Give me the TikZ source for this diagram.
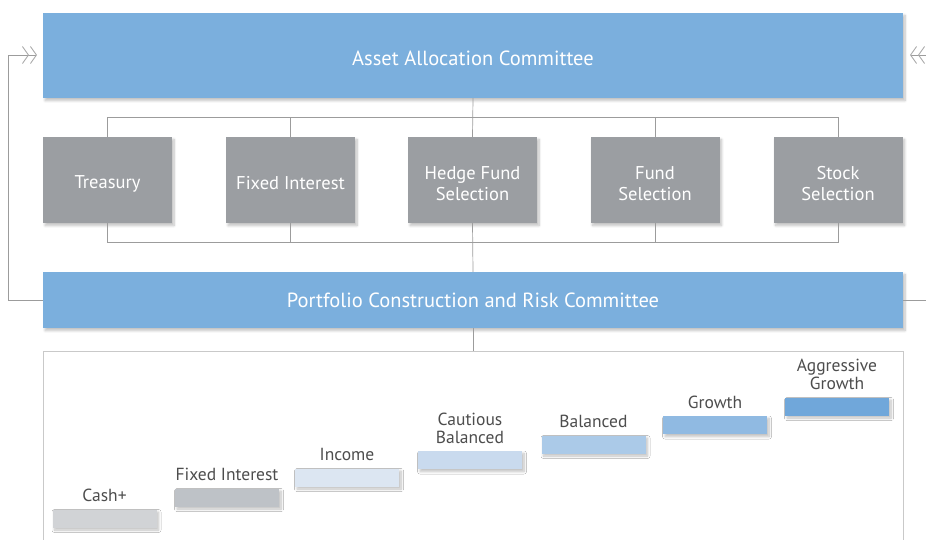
\documentclass[tikz,border=0pt]{standalone}
\usepackage{fontspec}
\setmainfont{PT Sans}
\usetikzlibrary{positioning,arrows.meta,shadows.blur}

\definecolor{committee}{HTML}{7BAFDD}
\definecolor{desk}{HTML}{9B9EA2}
\definecolor{wire}{HTML}{9C9C9C}
\definecolor{chevron}{HTML}{ABABAB}
\definecolor{panelline}{HTML}{C9C9C9}
\definecolor{labeltext}{HTML}{4D4D4D}
\definecolor{riskA}{HTML}{D1D3D6}
\definecolor{riskB}{HTML}{BEC2C7}
\definecolor{riskC}{HTML}{DCE6F2}
\definecolor{riskD}{HTML}{C9DAEE}
\definecolor{riskE}{HTML}{ABCAE8}
\definecolor{riskF}{HTML}{90BAE2}
\definecolor{riskG}{HTML}{70A7DA}

\tikzset{
  softshadow/.style={blur shadow={shadow xshift=2pt, shadow yshift=-2.5pt,
      shadow blur steps=8, shadow blur radius=2.5pt, shadow opacity=25}},
  committeebox/.style={rectangle, fill=committee, text=white, inner sep=0pt,
      minimum width=860pt, font=\fontsize{20.5}{24}\selectfont, softshadow},
  deskbox/.style={rectangle, fill=desk, inner sep=0pt,
      minimum width=129pt, minimum height=86pt, softshadow},
  desktext/.style={text=white, align=center, inner sep=0pt, yshift=-3.5pt,
      font=\fontsize{18.5}{21}\selectfont},
  wireline/.style={draw=wire, line width=0.7pt},
  feedback/.style={wireline, -{Straight Barb[length=6pt,width=17pt,line width=0.9pt,color=chevron,sep=1pt]
      Straight Barb[length=6pt,width=17pt,line width=0.9pt,color=chevron]}},
  panelbox/.style={rectangle, draw=panelline, fill=white, line width=0.8pt,
      minimum width=860pt, minimum height=210pt, inner sep=0pt},
  riskbar/.style={rectangle, inner sep=0pt, minimum width=104pt, minimum height=18pt,
      softshadow},
  risklabel/.style={anchor=south, inner sep=0pt, align=center, text=labeltext,
      font=\fontsize{17.5}{18}\selectfont, yshift=7pt},
}

\begin{document}
\begin{tikzpicture}[x=1pt, y=-1pt]
\useasboundingbox (0,0) rectangle (926,539);

% bottom panel with the risk profiles
\node[panelbox] (panel) at (473,456) {};

% committees
\node[committeebox, minimum height=85pt, text height=19pt, text depth=0pt] (aac) at (473,55.5)
  {Asset Allocation Committee};
\node[committeebox, minimum height=56pt] (pcr) at (473,300)
  {Portfolio Construction and Risk Committee};

% research desks
\node[deskbox, label={[desktext]center:Treasury}]         (treasury) at (107.5,180) {};
\node[deskbox, label={[desktext]center:Fixed Interest}]   (fixed)    at (290.5,180) {};
\node[deskbox, label={[desktext]center:Hedge Fund\\Selection}] (hedge) at (472.5,180) {};
\node[deskbox, label={[desktext]center:Fund\\Selection}]  (fund)     at (655,180)   {};
\node[deskbox, label={[desktext]center:Stock\\Selection}] (stock)    at (838,180)   {};

% buses above and below the desks
\coordinate (topbus) at (473,117);
\coordinate (botbus) at (473,242);
\draw[wireline] (treasury.north) |- (stock.north |- topbus) -- (stock.north);
\draw[wireline] (fixed.north) -- (fixed.north |- topbus);
\draw[wireline] (fund.north) -- (fund.north |- topbus);
\draw[wireline] (aac.south) -- (hedge.north);
\draw[wireline] (treasury.south) |- (stock.south |- botbus) -- (stock.south);
\draw[wireline] (fixed.south) -- (fixed.south |- botbus);
\draw[wireline] (fund.south) -- (fund.south |- botbus);
\draw[wireline] (hedge.south) -- (pcr.north);
\draw[wireline] (pcr.south) -- (panel.north);

% feedback loops back to the allocation committee
\coordinate (leftin) at (37,55);
\coordinate (rightin) at (910,55);
\draw[feedback] (pcr.west) -| (8,55) -- (leftin);
\draw[feedback] (pcr.east) -| (950,55) -- (rightin);

% risk profiles
\node[riskbar, fill=riskA] (cash)   at (104.5,518.5) {};
\node[riskbar, fill=riskB] (fixint) at (227,497.5)   {};
\node[riskbar, fill=riskC] (income) at (347,477.5)   {};
\node[riskbar, fill=riskD] (caut)   at (470,460)     {};
\node[riskbar, fill=riskE] (bal)    at (593.5,444.5) {};
\node[riskbar, fill=riskF] (growth) at (715,425)     {};
\node[riskbar, fill=riskG] (aggr)   at (837,406.5)   {};

\node[risklabel] at (cash.north)   {Cash+};
\node[risklabel] at (fixint.north) {Fixed Interest};
\node[risklabel] at (income.north) {Income};
\node[risklabel] at (caut.north)   {Cautious\\Balanced};
\node[risklabel] at (bal.north)    {Balanced};
\node[risklabel] at (growth.north) {Growth};
\node[risklabel] at (aggr.north)   {Aggressive\\Growth};
\end{tikzpicture}
\end{document}
